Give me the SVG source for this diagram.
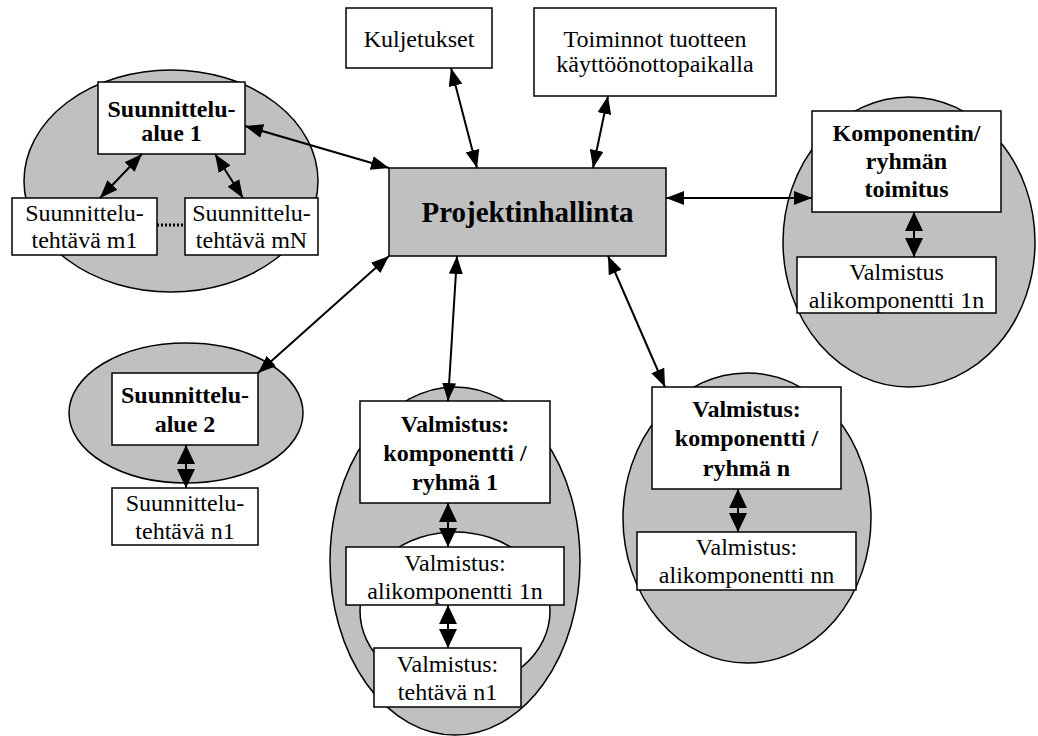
<svg xmlns="http://www.w3.org/2000/svg" width="1038" height="736" viewBox="0 0 1038 736">
  <style>
    .zone { fill: #c0c0c0; stroke: #000; stroke-width: 1.5; }
    .hole { fill: #fff; stroke: #000; stroke-width: 1.5; }
    .box { fill: #fff; stroke: #000; stroke-width: 1.5; }
    .hub { fill: #c0c0c0; stroke: #000; stroke-width: 1.5; }
    text { font-family: "Liberation Serif", "Times New Roman", serif; font-size: 24px; fill: #000; text-anchor: middle; }
    .b { font-weight: bold; }
    .hubt { font-weight: bold; font-size: 29px; }
    .link { stroke: #000; stroke-width: 2; fill: none; marker-start: url(#head); marker-end: url(#head); }
    .pair { stroke: #000; stroke-width: 2; fill: none; marker-start: url(#stub); marker-end: url(#stub); }
  </style>
  <defs>
    <marker id="head" viewBox="0 0 18 14" refX="18" refY="7" markerWidth="18" markerHeight="14" markerUnits="userSpaceOnUse" orient="auto-start-reverse">
      <path d="M0,0 L18,7 L0,14 z" fill="#000"/>
    </marker>
    <marker id="stub" viewBox="0 0 19 18" refX="19" refY="9" markerWidth="19" markerHeight="18" markerUnits="userSpaceOnUse" orient="auto-start-reverse">
      <path d="M0,0 L19,9 L0,18 z" fill="#000"/>
    </marker>
  </defs>

  <!-- grey cluster areas -->
  <g id="clusters">
    <ellipse class="zone" cx="171" cy="181" rx="147" ry="111"/>
    <ellipse class="zone" cx="186" cy="413" rx="117" ry="70"/>
    <ellipse class="zone" cx="455" cy="561" rx="125" ry="174"/>
    <ellipse class="hole" cx="455" cy="611" rx="95" ry="79"/>
    <ellipse class="zone" cx="747" cy="518" rx="124" ry="145"/>
    <ellipse class="zone" cx="909" cy="242" rx="126" ry="145"/>
  </g>

  <g id="projektinhallinta">
    <rect class="hub" x="389" y="168" width="277" height="88"/>
    <text class="hubt" x="527.5" y="222">Projektinhallinta</text>
  </g>

  <g id="kuljetukset">
    <rect class="box" x="346" y="8" width="146" height="60"/>
    <text x="419" y="47">Kuljetukset</text>
  </g>

  <g id="toiminnot">
    <rect class="box" x="534" y="8" width="242" height="88"/>
    <text x="655" y="47">Toiminnot tuotteen</text>
    <text x="655" y="72">käyttöönottopaikalla</text>
  </g>

  <g id="suunnittelualue1">
    <rect class="box" x="98" y="82" width="147" height="72"/>
    <text class="b" x="171.5" y="117">Suunnittelu-</text>
    <text class="b" x="171.5" y="141">alue 1</text>
  </g>

  <g id="tehtava-m1">
    <rect class="box" x="12" y="198" width="145" height="57"/>
    <text x="84.5" y="221">Suunnittelu-</text>
    <text x="84.5" y="248">tehtävä m1</text>
  </g>

  <g id="tehtava-mN">
    <rect class="box" x="185" y="198" width="133" height="57"/>
    <text x="251.5" y="221">Suunnittelu-</text>
    <text x="251.5" y="248">tehtävä mN</text>
  </g>

  <g id="suunnittelualue2">
    <rect class="box" x="112" y="373" width="146" height="72"/>
    <text class="b" x="185" y="403">Suunnittelu-</text>
    <text class="b" x="185" y="432">alue 2</text>
  </g>

  <g id="tehtava-n1">
    <rect class="box" x="112" y="488" width="146" height="57"/>
    <text x="185" y="511">Suunnittelu-</text>
    <text x="185" y="539">tehtävä n1</text>
  </g>

  <g id="ryhma1">
    <rect class="box" x="360" y="401" width="190" height="102"/>
    <text class="b" x="455" y="432">Valmistus:</text>
    <text class="b" x="455" y="461">komponentti /</text>
    <text class="b" x="455" y="490">ryhmä 1</text>
  </g>

  <g id="alikomponentti-1n">
    <rect class="box" x="346" y="547" width="218" height="58"/>
    <text x="455" y="571">Valmistus:</text>
    <text x="455" y="599">alikomponentti 1n</text>
  </g>

  <g id="valmistus-tehtava-n1">
    <rect class="box" x="374" y="648" width="147" height="59"/>
    <text x="447.5" y="672">Valmistus:</text>
    <text x="447.5" y="700">tehtävä n1</text>
  </g>

  <g id="ryhma-n">
    <rect class="box" x="652" y="387" width="189" height="102"/>
    <text class="b" x="746.5" y="417">Valmistus:</text>
    <text class="b" x="746.5" y="446">komponentti /</text>
    <text class="b" x="746.5" y="476">ryhmä n</text>
  </g>

  <g id="alikomponentti-nn">
    <rect class="box" x="637" y="532" width="219" height="58"/>
    <text x="746.5" y="555">Valmistus:</text>
    <text x="746.5" y="583">alikomponentti nn</text>
  </g>

  <g id="toimitus">
    <rect class="box" x="812" y="111" width="189" height="101"/>
    <text class="b" x="906.5" y="141">Komponentin/</text>
    <text class="b" x="906.5" y="169">ryhmän</text>
    <text class="b" x="906.5" y="197">toimitus</text>
  </g>

  <g id="toimitus-alikomponentti">
    <rect class="box" x="797" y="257" width="199" height="56"/>
    <text x="896.5" y="280">Valmistus</text>
    <text x="896.5" y="308">alikomponentti 1n</text>
  </g>

  <g id="connectors">
    <line class="link" x1="245" y1="126" x2="389" y2="168"/>
    <line class="link" x1="451" y1="68" x2="477" y2="168"/>
    <line class="link" x1="608" y1="96" x2="593" y2="168"/>
    <line class="link" x1="666" y1="198" x2="812" y2="198"/>
    <line class="link" x1="389" y1="256" x2="258" y2="373"/>
    <line class="link" x1="457" y1="256" x2="448" y2="401"/>
    <line class="link" x1="608" y1="256" x2="665" y2="387"/>
    <line class="link" x1="142" y1="154" x2="100" y2="198"/>
    <line class="link" x1="215" y1="154" x2="243" y2="198"/>
    <line class="pair" x1="914" y1="212" x2="914" y2="257"/>
    <line class="pair" x1="186" y1="445" x2="186" y2="488"/>
    <line class="pair" x1="448" y1="503" x2="448" y2="547"/>
    <line class="pair" x1="448" y1="605" x2="448" y2="648"/>
    <line class="pair" x1="738" y1="489" x2="738" y2="532"/>
    <line x1="157" y1="225" x2="185" y2="225" stroke="#000" stroke-width="3" stroke-dasharray="2,2"/>
  </g>
</svg>
